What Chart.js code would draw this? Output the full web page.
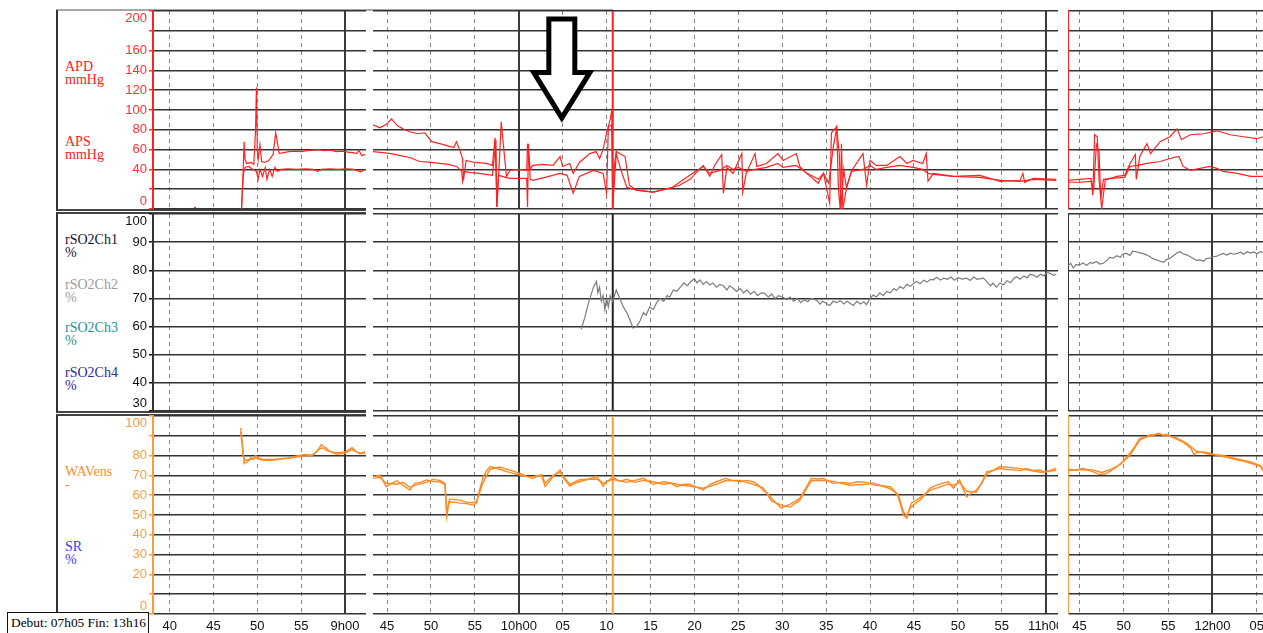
<!DOCTYPE html>
<html>
<head>
<meta charset="utf-8">
<script src="https://cdn.jsdelivr.net/npm/chart.js@4.4.0/dist/chart.umd.min.js"></script>
<style>
  html, body { margin: 0; padding: 0; background: #fff; }
  #page { position: relative; width: 1263px; height: 633px; overflow: hidden; background: #fff; }
  #page canvas { position: absolute; }
  .rowbox { position: absolute; left: 56px; width: 310px; box-sizing: border-box; border-left: 2px solid #333; }
  .lbl { position: absolute; left: 65px; font: 14px "Liberation Serif", "DejaVu Serif", serif; line-height: 13px; white-space: nowrap; }
  #topline { position: absolute; left: 56px; top: 9px; width: 557px; border-top: 2px solid #a8a8a8; }
  #debut { position: absolute; left: 7px; top: 612px; width: 142px; height: 22px; box-sizing: border-box; border: 1px solid #111;
           background: #fff; font: 13.4px "Liberation Serif", serif; line-height: 20px; padding-left: 3px; white-space: nowrap; overflow: hidden; z-index: 5; }
</style>
</head>
<body>
<div id="page">
  <div id="topline"></div>
  <div class="rowbox" style="top:10px;height:201px;border-bottom:2px solid #444"></div>
  <div class="rowbox" style="top:212px;height:201px;border-top:2px solid #444;border-bottom:2px solid #444"></div>
  <div class="rowbox" style="top:414px;height:198px;border-top:2px solid #444"></div>

  <div class="lbl" style="top:60px;color:#ff2020">APD<br>mmHg</div>
  <div class="lbl" style="top:135px;color:#ff2020">APS<br>mmHg</div>
  <div class="lbl" style="top:233px;color:#111133">rSO2Ch1<br>%</div>
  <div class="lbl" style="top:278px;color:#9a9a9a">rSO2Ch2<br>%</div>
  <div class="lbl" style="top:321px;color:#1a9595">rSO2Ch3<br>%</div>
  <div class="lbl" style="top:366px;color:#2a2aa0">rSO2Ch4<br>%</div>
  <div class="lbl" style="top:465px;color:#ff8c30">WAVens<br>-</div>
  <div class="lbl" style="top:540px;color:#3a3aff">SR<br>%</div>

  <div id="debut">Debut: 07h05 Fin: 13h16</div>
</div>

<script>
// time is in minutes after 8h00
const segmentRanges = [[38.1, 62.4], [103.4, 181.4], [223.7, 245.7]];
const eventTime = 130.7;

const apTickLabels = [0, 40, 60, 80, 100, 120, 140, 160, 200];
const rso2TickLabels = [30, 40, 50, 60, 70, 80, 90, 100];
const wavTickLabels = [0, 20, 30, 40, 50, 60, 70, 80, 100];

// APS (systolic), mmHg
const apsLeft = [[48.2, 0], [48.35, 30], [48.5, 68], [48.6, 50], [48.8, 46], [49.3, 47], [49.6, 45], [49.8, 80], [49.9, 123],
  [50.0, 60], [50.1, 50], [50.3, 65], [50.5, 48], [50.8, 47], [51.3, 49], [51.8, 55], [52.1, 77], [52.5, 56], [53.0, 57],
  [53.6, 58], [54.3, 58.5], [55.0, 58], [55.7, 59], [56.4, 59.5], [57.0, 60], [57.6, 59], [58.3, 59.5], [59.0, 58],
  [59.7, 58.5], [60.3, 57.5], [60.9, 57], [61.3, 56], [61.6, 59], [61.9, 54], [62.3, 55]];
const apsMid = [[103.4, 85], [104.2, 82], [105.0, 86], [105.5, 91], [106.2, 84], [107.0, 80], [107.6, 78], [108.5, 76],
  [109.3, 77], [110.1, 68], [111.0, 66], [111.8, 64], [112.6, 62], [112.9, 68], [113.3, 59], [113.6, 51], [113.7, 29],
  [114.0, 49], [115.0, 47], [116.3, 46], [117.0, 44], [117.3, 72], [117.5, 2], [117.8, 50], [118.0, 88], [118.3, 60],
  [118.6, 33], [119.0, 39], [120.0, 40], [120.9, 39], [121.0, 66], [121.3, 40], [121.6, 44], [122.8, 45], [123.9, 44],
  [124.7, 53], [125.0, 43], [125.8, 46], [126.2, 36], [126.9, 47], [128.1, 56], [128.8, 58], [129.2, 51], [129.6, 60],
  [130.0, 77], [130.4, 90], [130.6, 100], [130.7, 2], [130.9, 45], [131.1, 58], [132.1, 53], [132.6, 24], [133.4, 19],
  [135.3, 17], [136.8, 20], [138.3, 24], [139.5, 30], [141.0, 44], [141.75, 33], [142.3, 44], [143.1, 55], [143.3, 16],
  [143.7, 42], [144.4, 36], [145.4, 56], [145.5, 17], [145.9, 36], [146.9, 56], [147.1, 43], [148.2, 46], [149.5, 56],
  [150.1, 49], [151.6, 56], [152.0, 43], [152.8, 36], [154.1, 26], [154.7, 36], [155.4, 6], [155.6, 77], [156.2, 83],
  [156.4, 20], [156.6, 0], [156.75, 66], [156.9, 0], [157.3, 20], [157.9, 39], [159.2, 56], [159.6, 24], [160.0, 49],
  [160.7, 44], [161.9, 44], [163.4, 53], [164.2, 46], [164.9, 49], [166.0, 46], [166.4, 56], [166.6, 28], [167.2, 36],
  [169.5, 33], [172.5, 34], [174.8, 28], [177.1, 29], [177.4, 36], [177.6, 27], [178.6, 31], [181.2, 30]];
const apsRight = [[223.7, 29], [225.0, 30], [226.3, 31], [226.5, 14], [226.7, 75], [227.0, 73], [227.2, 30], [227.5, 0],
  [227.9, 29], [229.2, 33], [230.1, 34], [230.7, 46], [231.3, 55], [231.4, 30], [231.8, 53], [232.6, 66], [233.0, 56],
  [234.1, 68], [235.2, 73], [236.0, 81], [236.5, 70], [237.5, 75], [239.0, 76], [240.5, 79], [242.0, 75], [243.5, 73],
  [245.0, 71], [245.7, 73]];

// APD (diastolic), mmHg
const apdLeft = [[42.8, 1], [43.0, 2], [43.1, null], [48.2, 0], [48.4, 35], [48.6, 42], [49.0, 43], [49.5, 40], [49.9, 38],
  [50.1, 30], [50.3, 40], [50.6, 33], [50.9, 42], [51.1, 30], [51.4, 40], [51.7, 33], [52.0, 42], [52.3, 38], [52.7, 40],
  [53.5, 40.5], [54.5, 40], [55.5, 40.5], [56.4, 40], [56.9, 38], [57.3, 40], [58.2, 40.5], [59.2, 40], [60.2, 40.5],
  [61.0, 40], [61.8, 37.5], [62.3, 40]];
const apdMid = [[103.4, 58], [104.5, 57], [105.5, 56], [106.5, 54], [107.6, 52], [108.7, 48], [110.0, 47], [111.0, 46],
  [112.0, 45], [112.9, 43], [113.5, 38], [113.6, 28], [113.8, 38], [114.4, 37], [115.5, 36], [117.0, 34], [117.4, 70],
  [117.5, 2], [117.7, 34], [118.5, 32], [119.0, 31], [120.9, 31], [121.0, 2], [121.1, 66], [121.3, 30], [121.6, 29],
  [123.0, 32], [124.7, 36], [125.5, 34], [126.2, 16], [126.9, 33], [128.5, 39], [129.6, 36], [130.0, 16], [130.2, 83],
  [130.6, 85], [130.7, 2], [131.1, 56], [131.6, 40], [132.3, 22], [133.4, 19], [135.3, 17], [137.5, 22], [139.8, 36],
  [141.0, 43], [141.75, 36], [142.9, 39], [143.7, 44], [144.4, 40], [145.0, 42], [145.9, 38], [146.9, 40], [148.2, 42],
  [149.5, 46], [150.1, 42], [151.6, 44], [152.8, 36], [153.5, 33], [154.1, 30], [154.7, 36], [155.3, 26], [155.8, 62],
  [156.2, 82], [156.5, 55], [156.7, 0], [157.0, 40], [157.3, 22], [157.9, 38], [159.2, 40], [160.0, 44], [160.7, 40],
  [161.9, 42], [163.4, 44], [164.9, 42], [166.0, 40], [166.6, 36], [167.2, 35], [169.5, 33], [172.5, 32], [174.8, 29],
  [177.1, 28], [178.6, 30], [181.2, 29]];
const apdRight = [[223.7, 27], [225.0, 27], [226.3, 28], [226.6, 20], [226.9, 65], [227.2, 58], [227.4, 10], [227.7, 30],
  [228.5, 31], [230.1, 32], [230.7, 43], [231.5, 44], [232.6, 46], [234.1, 48], [235.2, 51], [236.2, 53], [236.7, 43],
  [237.5, 39], [239.7, 43], [240.5, 41], [241.2, 38], [242.8, 36], [244.3, 33], [245.7, 33]];

// rSO2Ch2, %
const rso2Ch2Mid = [[127.1, 59], [127.5, 63], [127.9, 68], [128.2, 71], [128.5, 74], [128.85, 76], [129.0, 72], [129.2, 74],
  [129.4, 69], [129.6, 71], [129.8, 66], [130.0, 70], [130.2, 67], [130.4, 71], [130.7, 69], [131.1, 73], [131.5, 70],
  [131.9, 67], [132.3, 65], [132.7, 62], [133.0, 59.5], [133.4, 60], [133.8, 62], [134.2, 65], [134.5, 64], [134.9, 67],
  [135.3, 66], [135.7, 68.5], [136.1, 70], [136.5, 69], [136.9, 71], [137.2, 70.5], [137.6, 73], [138.0, 72.5],
  [138.4, 74], [138.8, 75.5], [139.2, 74.5], [139.6, 76], [140.0, 77], [140.3, 75.5], [140.6, 76.6], [141.0, 75],
  [141.4, 76], [141.75, 74.8], [142.1, 75.5], [142.5, 74], [142.9, 75], [143.3, 74.5], [143.7, 73], [144.0, 74.5],
  [144.4, 73.6], [144.8, 72.5], [145.2, 73.5], [145.6, 72], [146.0, 73], [146.4, 71.5], [146.8, 72.5], [147.2, 71],
  [147.6, 72], [148.0, 71.8], [148.4, 70.5], [148.8, 71.5], [149.2, 70], [149.6, 71], [150.1, 70.4], [150.5, 69.5],
  [150.9, 70.5], [151.3, 69], [151.7, 70], [152.1, 68.5], [152.5, 69.5], [152.9, 68.8], [153.3, 70], [153.9, 69.4],
  [154.3, 68], [154.6, 69], [155.0, 68.3], [155.4, 67.5], [155.8, 69], [156.2, 68.5], [156.6, 69.2], [157.0, 68],
  [157.4, 69], [157.7, 68.3], [158.1, 67.5], [158.5, 69], [158.9, 68], [159.3, 68.8], [159.6, 67.8], [160.0, 70],
  [160.35, 71.2], [160.7, 70.5], [161.1, 72], [161.5, 71], [161.9, 72.5], [162.3, 72], [162.7, 73.5], [163.0, 72.8],
  [163.4, 74.2], [163.8, 73.5], [164.2, 75], [164.6, 74.3], [165.0, 75.5], [165.3, 76], [165.7, 75.2], [166.1, 76.5],
  [166.5, 75.8], [166.9, 76.8], [167.2, 76.6], [167.6, 77.5], [168.0, 76.5], [168.4, 77.2], [168.8, 76.8], [169.2, 77.6],
  [169.6, 76.5], [170.0, 77.4], [170.5, 76.9], [171.0, 77.2], [171.4, 76.4], [171.8, 77.6], [172.2, 76.8], [172.9, 77.2],
  [173.3, 76], [173.7, 74.5], [174.0, 75.4], [174.4, 74], [174.8, 75.5], [175.2, 74.8], [175.6, 76.3], [176.0, 75.6],
  [176.4, 77.2], [176.7, 77.7], [177.1, 76.8], [177.5, 78], [177.9, 77.3], [178.2, 78.5], [178.6, 78.3], [179.0, 77.5],
  [179.4, 78.6], [179.8, 78], [180.1, 79.2], [180.5, 78.9], [180.9, 78.2], [181.2, 78.6]];
const rso2Ch2Right = [[223.7, 81.5], [224.0, 82.5], [224.3, 80.8], [224.6, 82], [225.0, 81.9], [225.4, 82.6], [225.8, 81.7],
  [226.2, 82.8], [226.5, 82.5], [226.9, 83.1], [227.3, 82.2], [227.7, 82.5], [228.1, 83.5], [228.4, 84.6], [228.8, 84.3],
  [229.2, 85.2], [229.6, 84.6], [229.9, 85.8], [230.3, 86.0], [230.7, 85.3], [231.0, 86.8], [231.4, 86.6], [231.8, 86.2],
  [232.2, 85.9], [232.6, 85.4], [233.0, 84.7], [233.3, 84.1], [233.7, 83.7], [234.1, 83.2], [234.5, 82.8], [234.8, 83.8],
  [235.2, 84.3], [235.6, 85.2], [236.0, 86.2], [236.35, 86.6], [236.7, 85.8], [237.1, 85.5], [237.5, 84.8], [237.9, 84.1],
  [238.2, 83.5], [238.6, 83.7], [239.0, 83.2], [239.3, 84.2], [239.7, 84.3], [240.1, 84.8], [240.5, 85.0], [240.9, 85.6],
  [241.2, 86.0], [241.6, 85.4], [242.0, 86.1], [242.4, 85.7], [242.8, 86.0], [243.2, 86.4], [243.5, 85.7], [243.9, 86.6],
  [244.3, 86.1], [244.7, 86.5], [245.0, 85.9], [245.4, 86.6], [245.7, 86.3]];

// WAVens, two traces
const wavALeft = [[48.1, 94], [48.3, 86], [48.5, 76], [48.9, 77], [49.3, 79], [49.55, 78], [49.8, 80], [50.1, 79],
  [50.6, 78], [51.1, 78], [52.0, 78], [53.0, 78.5], [54.0, 79], [54.9, 79.5], [55.6, 80], [56.2, 80], [56.8, 82],
  [57.3, 85.5], [57.8, 84], [58.3, 82], [58.9, 81.5], [59.4, 81.5], [60.1, 82], [60.8, 84], [61.3, 82], [61.7, 81], [62.3, 82]];
const wavBLeft = [[48.1, 92], [48.4, 80], [48.6, 77.5], [49.2, 78], [49.8, 79], [50.5, 77.8], [51.5, 77.5], [52.5, 78.3],
  [53.5, 78.6], [54.5, 79.8], [55.5, 80.6], [56.3, 80.2], [57.0, 83], [57.4, 84], [58.0, 82.5], [59.0, 80.8], [60.0, 81.2],
  [60.8, 83], [61.5, 81.5], [62.3, 81]];
const wavAMid = [[103.4, 69.3], [104.2, 70.2], [104.9, 64.3], [105.5, 66], [106.1, 67.3], [106.8, 65], [107.6, 62.6],
  [108.15, 66], [108.8, 66.5], [109.5, 67.7], [110.2, 67], [111.0, 66.8], [111.6, 65.2], [111.8, 49.2], [112.0, 55],
  [112.1, 56.7], [112.7, 56.5], [113.3, 56], [114.0, 55.8], [114.8, 55], [115.2, 56], [115.5, 62], [115.9, 68.5],
  [116.3, 72], [116.7, 74.4], [117.2, 74], [117.8, 73.1], [118.5, 72], [119.35, 71], [120.1, 70.2], [120.8, 69.5],
  [121.6, 69.4], [122.2, 70], [122.6, 69.8], [123.0, 64.3], [123.5, 67], [123.9, 69.4], [124.4, 71.5], [124.7, 72.7],
  [125.05, 69], [125.8, 64.6], [126.4, 66], [126.9, 66.8], [127.8, 68], [128.85, 69.4], [129.3, 67], [129.6, 64.6],
  [130.1, 67], [130.7, 69.0], [131.5, 67], [132.3, 68], [133.2, 66.5], [134.2, 67.5], [135.3, 66.8], [136.5, 65.5],
  [137.3, 66], [138.0, 64.3], [138.8, 65.5], [139.5, 65.5], [140.3, 64], [141.0, 62.6], [141.8, 65.5], [142.5, 66.8],
  [143.5, 68.5], [144.3, 67.5], [145.2, 66.8], [146.0, 67.5], [146.7, 66.8], [147.3, 65], [147.8, 62.6], [148.3, 61],
  [148.8, 58.4], [149.3, 56], [149.9, 53.4], [150.4, 54.5], [150.9, 55.5], [151.5, 57], [152.0, 58.4], [152.6, 63],
  [153.3, 68.5], [154.0, 68.2], [154.7, 68.5], [155.3, 67], [155.8, 66], [156.7, 66.5], [157.7, 66], [158.6, 66.8],
  [159.6, 66.5], [160.35, 65.2], [161.3, 64.8], [162.3, 64.3], [162.8, 62], [163.2, 59.2], [163.8, 50], [164.2, 48.3],
  [164.4, 52], [164.7, 54.2], [165.2, 56], [165.7, 57.6], [166.2, 60], [166.8, 63.5], [167.5, 65], [168.2, 66],
  [168.9, 66.8], [169.5, 63.5], [170.2, 67.7], [170.6, 63], [171.0, 59.2], [171.5, 61], [172.1, 62.6], [172.7, 66],
  [173.3, 71.9], [174.0, 72.5], [174.8, 73.6], [175.5, 73], [176.3, 72.8], [177.1, 72.4], [177.8, 73.5], [178.5, 72.5],
  [179.4, 72.7], [179.8, 71.4], [180.5, 72.5], [181.2, 73.6]];
const wavBMid = [[103.4, 68.5], [104.2, 69], [104.9, 66], [106.1, 65.5], [106.8, 66.5], [107.6, 64], [108.15, 65],
  [109.5, 66.5], [110.2, 68], [111.0, 67.5], [111.6, 66], [111.8, 51], [112.1, 58], [113.3, 57.5], [114.0, 56.5],
  [114.8, 56.2], [115.2, 57], [115.9, 66], [116.7, 73], [117.8, 74.2], [119.35, 72.2], [120.1, 71], [121.6, 68.4],
  [122.6, 70.5], [123.0, 66], [123.9, 70], [124.7, 71.5], [125.8, 65.5], [126.9, 67.8], [128.85, 68.2], [129.6, 66],
  [130.7, 68], [132.3, 66.5], [134.2, 68.5], [135.3, 65.5], [136.5, 66.8], [138.0, 65.5], [139.5, 64.5], [141.0, 63.5],
  [142.5, 65.5], [143.5, 67.3], [145.2, 67.5], [146.7, 65.5], [147.8, 63.8], [148.8, 57], [149.9, 55], [150.9, 54],
  [152.0, 57.5], [153.3, 67.3], [154.7, 67.5], [155.8, 67], [157.7, 65], [159.6, 65.5], [160.35, 66.2], [162.3, 63.2],
  [163.2, 60.5], [163.8, 51.5], [164.2, 49.5], [164.7, 56], [165.7, 58.8], [166.8, 62.4], [168.9, 65.6], [169.5, 65],
  [170.2, 66.5], [171.0, 62], [172.1, 61.5], [173.3, 70.8], [174.8, 74.5], [177.1, 73.4], [179.4, 71.6], [181.2, 72.6]];
const wavARight = [[223.7, 73.1], [224.5, 72.6], [225.4, 73.6], [226.0, 72.5], [226.5, 71.9], [227.2, 70.5], [227.9, 70.7],
  [228.6, 72.5], [229.2, 74.4], [230.0, 77.5], [230.7, 81.2], [231.3, 85], [231.8, 88.7], [232.4, 89.2], [233.0, 89.9],
  [233.5, 90.5], [233.9, 91.3], [234.4, 90.3], [234.8, 90.8], [235.4, 89.5], [236.0, 88.2], [236.6, 87], [237.1, 85.4],
  [237.6, 83.5], [237.9, 80.5], [238.2, 81.5], [239.0, 81.8], [239.7, 81.2], [240.4, 80.3], [241.2, 79.5], [242.0, 78.8],
  [242.8, 77.8], [243.5, 77.2], [244.3, 76.1], [245.0, 75.2], [245.4, 74.4], [245.8, 71.9]];
const wavBRight = [[223.7, 72.4], [225.4, 73], [226.5, 72.8], [227.5, 71.5], [228.6, 73.2], [229.6, 75.5], [230.7, 80.2],
  [231.8, 87.8], [233.0, 90.6], [234.0, 90.8], [234.8, 90.2], [236.0, 88.8], [237.1, 86.2], [238.2, 82.2], [239.7, 80.6],
  [241.2, 80.1], [242.8, 78.3], [244.3, 76.8], [245.4, 75], [245.8, 72.5]];

// annotation arrow (time in minutes, values in mmHg)
const arrowMark = { time: 124.9, shaft: 1.48, head: 3.2, top: 192, base: 138, tip: 92 };

const RED = '#ff2222';
const ORANGE = '#ff8a24';
const GRAY = '#7c7c7c';

const rows = [
  { top: 11, height: 198, min: 0, max: 200, step: 20, tickColor: '#ff3030', axisColor: '#ff2020', markColor: '#ff2020', shown: apTickLabels,
    series: [[apsLeft, apsMid, apsRight, RED], [apdLeft, apdMid, apdRight, RED]] },
  { top: 214, height: 197, min: 30, max: 100, step: 10, tickColor: '#111', axisColor: '#333', markColor: '#222', shown: rso2TickLabels,
    series: [[[], rso2Ch2Mid, rso2Ch2Right, GRAY]] },
  { top: 416, height: 198, min: 0, max: 100, step: 10, tickColor: '#ff9a40', axisColor: '#ff9a3a', markColor: '#ff9a3a', shown: wavTickLabels,
    series: [[wavALeft, wavAMid, wavARight, ORANGE], [wavBLeft, wavBMid, wavBRight, ORANGE]] }
];
const cols = [
  { left: 56, axis: 97, width: 213 },
  { left: 373, axis: 0, width: 685 },
  { left: 1068, axis: 0, width: 195 }
];

function clockLabel(m) {
  const mm = m % 60;
  if (mm === 0) return (8 + m / 60) + 'h00';
  return String(mm).padStart(2, '0');
}

function isHour(ctx) {
  return ctx.tick && ctx.tick.value % 60 === 0;
}

function fixSize(size) {
  return scale => {
    if (scale.isHorizontal()) scale.height = size; else scale.width = size;
    scale.paddingLeft = 0; scale.paddingRight = 0; scale.paddingTop = 0; scale.paddingBottom = 0;
  };
}

function yLabel(row, v) {
  if (!row.shown.includes(v)) return '';
  if (v === row.max) return ['', String(v)];
  if (v === row.min) return [String(v), ''];
  return String(v);
}

const arrowPlugin = {
  id: 'arrowMark',
  afterDatasetsDraw(chart) {
    const xs = chart.scales.x, ys = chart.scales.y, c = chart.ctx;
    const cx = xs.getPixelForValue(arrowMark.time);
    const sw = xs.getPixelForValue(arrowMark.time + arrowMark.shaft) - cx;
    const hw = xs.getPixelForValue(arrowMark.time + arrowMark.head) - cx;
    const top = ys.getPixelForValue(arrowMark.top);
    const base = ys.getPixelForValue(arrowMark.base);
    const tip = ys.getPixelForValue(arrowMark.tip);
    c.save();
    c.beginPath();
    c.moveTo(cx - sw, top);
    c.lineTo(cx + sw, top);
    c.lineTo(cx + sw, base);
    c.lineTo(cx + hw, base);
    c.lineTo(cx, tip);
    c.lineTo(cx - hw, base);
    c.lineTo(cx - sw, base);
    c.closePath();
    c.fillStyle = '#fff';
    c.fill();
    c.lineWidth = 5;
    c.lineJoin = 'miter';
    c.strokeStyle = '#000';
    c.stroke();
    c.restore();
  }
};

const page = document.getElementById('page');

rows.forEach((row, r) => {
  cols.forEach((col, k) => {
    const isLeft = k === 0;
    const isBottom = r === 2;
    const [xmin, xmax] = segmentRanges[k];

    const canvas = document.createElement('canvas');
    canvas.width = col.axis + col.width;
    canvas.height = row.height + 4 + (isBottom ? 17 : 0);
    canvas.style.left = col.left + 'px';
    canvas.style.top = (row.top - 2) + 'px';
    page.appendChild(canvas);

    const datasets = row.series.map(s => ({
      data: s[k].map(([x, y]) => ({ x, y })),
      borderColor: s[3],
      borderWidth: r === 2 ? 1.4 : 1.2,
      pointRadius: 0,
      tension: 0,
      fill: false
    }));
    if (k === 1) {
      datasets.push({
        data: [{ x: eventTime, y: row.min }, { x: eventTime, y: row.max }],
        borderColor: row.markColor,
        borderWidth: 2,
        pointRadius: 0
      });
    }

    new Chart(canvas, {
      type: 'line',
      data: { datasets },
      options: {
        responsive: false,
        animation: false,
        devicePixelRatio: 1,
        layout: { padding: { top: 2, bottom: isBottom ? 0 : 2, left: 0, right: 0 } },
        plugins: { legend: { display: false }, tooltip: { enabled: false } },
        scales: {
          x: {
            type: 'linear',
            min: xmin,
            max: xmax,
            afterFit: fixSize(isBottom ? 19 : 0),
            ticks: {
              display: isBottom,
              stepSize: 5,
              includeBounds: false,
              autoSkip: false,
              maxRotation: 0,
              padding: 5,
              color: '#111',
              font: { family: 'Liberation Sans', size: 13 },
              callback: v => clockLabel(v)
            },
            grid: {
              drawTicks: false,
              color: c => isHour(c) ? '#3a3a3a' : '#858585',
              lineWidth: c => isHour(c) ? 2 : 1
            },
            border: { display: false, dash: c => isHour(c) ? [] : [4, 4] }
          },
          y: {
            type: 'linear',
            min: row.min,
            max: row.max,
            afterFit: fixSize(col.axis),
            ticks: {
              display: isLeft,
              stepSize: row.step,
              autoSkip: false,
              padding: 2,
              color: row.tickColor,
              font: { family: 'Liberation Sans', size: 13 },
              callback: v => yLabel(row, v)
            },
            grid: {
              color: '#333',
              lineWidth: 1.5,
              drawTicks: isLeft,
              tickLength: 4,
              tickColor: row.tickColor,
              tickWidth: 1.5
            },
            border: { display: k !== 1, color: row.axisColor, width: 2 }
          }
        }
      },
      plugins: (r === 0 && k === 1) ? [arrowPlugin] : []
    });
  });
});
</script>
</body>
</html>
